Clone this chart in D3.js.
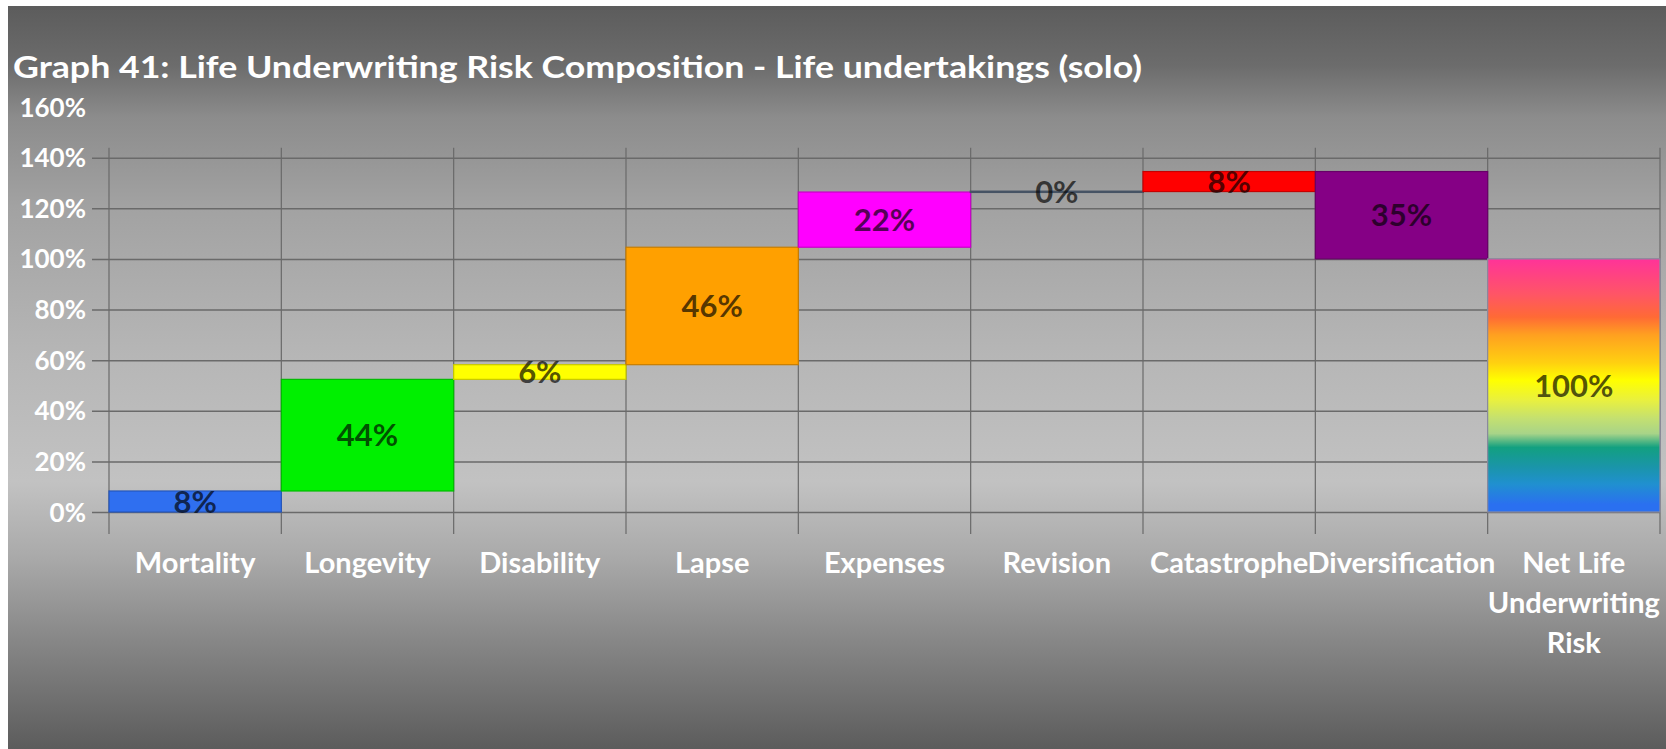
<!DOCTYPE html>
<html>
<head>
<meta charset="utf-8">
<script src="https://cdn.jsdelivr.net/npm/d3@7/dist/d3.min.js"></script>
<style>
  html, body { margin: 0; padding: 0; background: #ffffff; }
  svg { display: block; }
  text { font-family: Lato, "Open Sans", sans-serif; font-weight: 700; }
</style>
</head>
<body>
<svg id="chart" width="1666" height="749"></svg>
<script>
// ---- data ----
const titleText = "Graph 41: Life Underwriting Risk Composition - Life undertakings (solo)";
const categories = ["Mortality", "Longevity", "Disability", "Lapse", "Expenses", "Revision", "Catastrophe", "Diversification", "Net Life Underwriting Risk"];
const values = [8.3, 44.1, 5.8, 46.4, 21.8, 0.2, 7.9, -34.5, 100];
const barColors = ["#2f6ff0", "#00f000", "#ffff00", "#ffa000", "#ff00ff", "#5a6a80", "#ff0000", "#850085", null];
const yTicks = [0, 20, 40, 60, 80, 100, 120, 140, 160];
const gridTicks = [0, 20, 40, 60, 80, 100, 120, 140];
const netGradientStops = [
  [0.00, "#ff3399"], [0.14, "#ff5566"], [0.23, "#ff6a35"], [0.30, "#ffa020"],
  [0.41, "#ffd010"], [0.48, "#ffff00"], [0.56, "#e8f040"], [0.63, "#c4e070"],
  [0.69, "#a8d488"], [0.745, "#12a080"], [0.82, "#1a95a8"], [0.89, "#2090d0"], [0.97, "#2a70f0"]
];

// ---- layout ----
const W = 1666, H = 749;
const svg = d3.select("#chart");
const defs = svg.append("defs");

const bg = defs.append("linearGradient").attr("id", "bgGrad")
  .attr("x1", 0).attr("y1", 0).attr("x2", 0).attr("y2", 1);
[[0, "#5c5c5c"], [0.08, "#6c6c6c"], [0.15, "#8c8c8c"], [0.27, "#a2a2a2"], [0.47, "#b6b6b6"], [0.64, "#c2c2c2"], [0.74, "#aaaaaa"], [0.85, "#888888"], [1, "#5c5c5c"]]
  .forEach(s => bg.append("stop").attr("offset", s[0]).attr("stop-color", s[1]));

const ng = defs.append("linearGradient").attr("id", "netGrad")
  .attr("x1", 0).attr("y1", 0).attr("x2", 0).attr("y2", 1);
netGradientStops.forEach(s => ng.append("stop").attr("offset", s[0]).attr("stop-color", s[1]));

svg.append("rect").attr("x", 8).attr("y", 6).attr("width", W - 8).attr("height", H - 6)
  .attr("fill", "url(#bgGrad)");

const x = d3.scaleBand().domain(categories).range([109, 1660]).padding(0);
const y = d3.scaleLinear().domain([0, 160]).range([512, 107]);

// gridlines
const gGrid = svg.append("g").attr("transform", "translate(92,0)")
  .call(d3.axisLeft(y).tickValues(gridTicks).tickSize(-(1660 - 92)).tickFormat(""));
gGrid.select(".domain").remove();
gGrid.selectAll("line").attr("stroke", "#6a6a6a").attr("stroke-width", 1.5);

// vertical category lines
svg.append("g").selectAll("line")
  .data(categories.concat(["__end"]))
  .join("line")
  .attr("x1", (d, i) => i < categories.length ? x(d) : x.range()[1])
  .attr("x2", (d, i) => i < categories.length ? x(d) : x.range()[1])
  .attr("y1", y(140) - 10).attr("y2", 534)
  .attr("stroke", "#6a6a6a").attr("stroke-width", 1.2);

// y axis labels
const gY = svg.append("g").attr("transform", "translate(86,0)")
  .call(d3.axisLeft(y).tickValues(yTicks).tickSize(0).tickPadding(0).tickFormat(d => d + "%"));
gY.select(".domain").remove();
gY.selectAll("text").attr("fill", "#ffffff").attr("font-size", 26)
  .attr("font-family", "Lato, 'Open Sans', sans-serif").attr("font-weight", 700)
  .attr("dy", "0.35em");

// waterfall bars
let cum = 0;
const bars = values.map((v, i) => {
  let lo, hi;
  if (i === values.length - 1) { lo = 0; hi = v; }
  else { lo = Math.min(cum, cum + v); hi = Math.max(cum, cum + v); cum += v; }
  return { cat: categories[i], v, lo, hi, color: barColors[i] };
});

const gBars = svg.append("g");
gBars.selectAll("rect").data(bars).join("rect")
  .attr("x", d => x(d.cat))
  .attr("width", x.bandwidth())
  .attr("y", d => y(d.hi))
  .attr("height", d => Math.max(0, y(d.lo) - y(d.hi)))
  .attr("fill", d => d.color ? d.color : "url(#netGrad)")
  .attr("stroke", d => d.color ? d3.color(d.color).darker(0.7) : "#8a8aa0")
  .attr("stroke-width", d => d.hi - d.lo < 1 ? 2 : 1.2);

// bar value labels
gBars.selectAll("text").data(bars).join("text")
  .attr("x", d => x(d.cat) + x.bandwidth() / 2)
  .attr("y", d => y((d.lo + d.hi) / 2))
  .attr("dy", "0.36em")
  .attr("text-anchor", "middle")
  .attr("font-size", 31)
  .attr("fill", "#000").attr("fill-opacity", 0.68)
  .text(d => Math.round(Math.abs(d.v)) + "%");

// category labels with wrapping
const gX = svg.append("g");
const lineH = 40;
categories.forEach(c => {
  const t = gX.append("text")
    .attr("x", x(c) + x.bandwidth() / 2)
    .attr("y", 573)
    .attr("text-anchor", "middle")
    .attr("font-size", 29)
    .attr("fill", "#ffffff");
  const words = c.split(" ");
  let line = [];
  let tspan = t.append("tspan").attr("x", x(c) + x.bandwidth() / 2).attr("dy", 0);
  words.forEach(w => {
    line.push(w);
    tspan.text(line.join(" "));
    if (tspan.node().getComputedTextLength() > x.bandwidth() - 6 && line.length > 1) {
      line.pop();
      tspan.text(line.join(" "));
      line = [w];
      tspan = t.append("tspan").attr("x", x(c) + x.bandwidth() / 2).attr("dy", lineH).text(w);
    }
  });
});

// title
svg.append("text")
  .attr("x", 13).attr("y", 78)
  .attr("font-size", 30)
  .attr("fill", "#ffffff")
  .attr("textLength", 1129)
  .attr("lengthAdjust", "spacingAndGlyphs")
  .text(titleText);
</script>
</body>
</html>
